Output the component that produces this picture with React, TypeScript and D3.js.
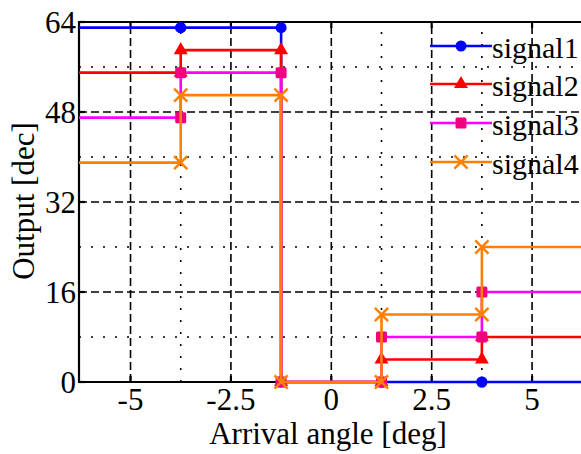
import React, { useEffect, useRef } from 'react';
import * as d3 from 'd3';

// step edges (deg) and output level for each of the 5 segments
const edges = [-3.75, -1.25, 1.25, 3.75];
const signal1 = [63, 63, 0, 0, 0];
const signal2 = [55, 59, 0, 4, 8];
const signal3 = [47, 55, 0, 8, 16];
const signal4 = [39, 51, 0, 12, 24];
const names = ['signal1', 'signal2', 'signal3', 'signal4'];
const xTicks = [-5, -2.5, 0, 2.5, 5];
const xTickLabels = ['-5', '-2.5', '0', '2.5', '5'];
const xMinor = [-3.75, -1.25, 1.25, 3.75];
const yTicks = [0, 16, 32, 48, 64];
const yMinor = [8, 24, 40, 56];

const styles = [
  { line: '#0000ff', fill: '#0000ff', marker: 'circle' },
  { line: '#ff0000', fill: '#ff0000', marker: 'triangle' },
  { line: '#ff00ff', fill: '#f0007f', marker: 'square' },
  { line: '#ff8000', fill: '#ff8000', marker: 'x' },
];

const W = 581, H = 454;
const margin = { top: 22, left: 79, bottom: 72 };
const FONT = '"Liberation Serif", "Times New Roman", serif';

const App = () => {
  const ref = useRef<SVGSVGElement>(null);

  useEffect(() => {
    const svg = d3.select(ref.current);
    svg.selectAll('*').remove();

    const x = d3.scaleLinear().domain([-2 * Math.PI, 2 * Math.PI]).range([margin.left, margin.left + 504.6]);
    const y = d3.scaleLinear().domain([0, 64]).range([H - margin.bottom, margin.top]);
    const [x0, x1] = x.range();
    const [y0, y1] = y.range();

    const grid = svg.append('g').attr('stroke', '#000').attr('stroke-width', 1.6);
    // dotted minor grid
    grid.selectAll('.vminor').data(xMinor).join('line').attr('class', 'vminor')
      .attr('x1', d => x(d)).attr('x2', d => x(d)).attr('y1', y0).attr('y2', y1)
      .attr('stroke-dasharray', '2,10');
    grid.selectAll('.hminor').data(yMinor).join('line').attr('class', 'hminor')
      .attr('x1', x0).attr('x2', x1).attr('y1', d => y(d)).attr('y2', d => y(d))
      .attr('stroke-dasharray', '2,10');
    // dashed major grid
    grid.selectAll('.vmajor').data(xTicks).join('line').attr('class', 'vmajor')
      .attr('x1', d => x(d)).attr('x2', d => x(d)).attr('y1', y0).attr('y2', y1)
      .attr('stroke-dasharray', '8,4');
    grid.selectAll('.hmajor').data(yTicks.slice(1, -1)).join('line').attr('class', 'hmajor')
      .attr('x1', x0).attr('x2', x1).attr('y1', d => y(d)).attr('y2', d => y(d))
      .attr('stroke-dasharray', '8,4');

    // frame + inward ticks
    const frame = svg.append('g').attr('stroke', '#000').attr('stroke-width', 2.2).attr('fill', 'none');
    frame.append('path').attr('d', `M${x1},${y1}H${x0}V${y0}H${x1}`);
    frame.selectAll('.xt').data(xTicks).join('path').attr('class', 'xt')
      .attr('d', d => `M${x(d)},${y0}v-6M${x(d)},${y1}v6`);
    frame.selectAll('.yt').data(yTicks).join('path').attr('class', 'yt')
      .attr('d', d => `M${x0},${y(d)}h6`);

    // tick labels
    svg.append('g').selectAll('text').data(xTicks).join('text')
      .attr('x', d => x(d)).attr('y', 410)
      .attr('text-anchor', 'middle')
      .style('font-family', FONT).style('font-size', '31px')
      .text((d, i) => xTickLabels[i]);
    svg.append('g').selectAll('text').data(yTicks).join('text')
      .attr('x', 76).attr('y', d => y(d)).attr('dy', '0.35em')
      .attr('text-anchor', 'end')
      .style('font-family', FONT).style('font-size', '31px')
      .text(d => d);

    svg.append('text')
      .attr('x', 328).attr('y', 444)
      .attr('text-anchor', 'middle')
      .style('font-family', FONT).style('font-size', '31px')
      .text('Arrival angle [deg]');
    svg.append('text')
      .attr('transform', 'translate(34,201) rotate(-90)')
      .attr('text-anchor', 'middle')
      .style('font-family', FONT).style('font-size', '31px')
      .text('Output [dec]');

    const drawMarker = (g, kind, fill, cx, cy, s = 1.1) => {
      if (kind === 'circle') {
        g.append('circle').attr('cx', cx).attr('cy', cy).attr('r', 5 * s).attr('fill', fill);
      } else if (kind === 'triangle') {
        g.append('path').attr('transform', `translate(${cx},${cy})`)
          .attr('d', d3.symbol(d3.symbolTriangle, 70 * s * s)()).attr('fill', fill);
      } else if (kind === 'square') {
        g.append('rect').attr('x', cx - 5 * s).attr('y', cy - 5 * s)
          .attr('width', 10 * s).attr('height', 10 * s).attr('rx', 1.5).attr('fill', fill);
      } else {
        const r = 6 * s;
        g.append('path').attr('d', `M${cx - r},${cy - r}L${cx + r},${cy + r}M${cx - r},${cy + r}L${cx + r},${cy - r}`)
          .attr('stroke', fill).attr('stroke-width', 2.5).attr('fill', 'none');
      }
    };

    // step series
    const series = [signal1, signal2, signal3, signal4];
    const xDom = x.domain();
    series.forEach((vals, k) => {
      const st = styles[k];
      const pts: [number, number][] = [[xDom[0], vals[0]]];
      const marks: [number, number][] = [];
      edges.forEach((e, i) => {
        pts.push([e, vals[i]], [e, vals[i + 1]]);
        marks.push([e, vals[i]], [e, vals[i + 1]]);
      });
      pts.push([xDom[1], vals[vals.length - 1]]);
      const g = svg.append('g');
      g.append('path')
        .attr('d', d3.line().x(d => x(d[0])).y(d => y(d[1]))(pts))
        .attr('fill', 'none').attr('stroke', st.line).attr('stroke-width', 2.6);
      marks.forEach(m => drawMarker(g, st.marker, st.fill, x(m[0]), y(m[1])));
    });

    // legend (no box)
    const legendY = [46, 84, 123, 162];
    names.forEach((n, k) => {
      const st = styles[k];
      const g = svg.append('g');
      g.append('line').attr('x1', 430).attr('x2', 492).attr('y1', legendY[k]).attr('y2', legendY[k])
        .attr('stroke', st.line).attr('stroke-width', 2.6);
      drawMarker(g, st.marker, st.fill, 461, legendY[k]);
      g.append('text').attr('x', 492).attr('y', legendY[k] + 12)
        .style('font-family', FONT).style('font-size', '30px')
        .text(n);
    });
  }, []);

  return (
    <svg ref={ref} width={W} height={H}
      style={{ position: 'absolute', left: 0, top: 0, background: '#fff' }} />
  );
};

export default App;
